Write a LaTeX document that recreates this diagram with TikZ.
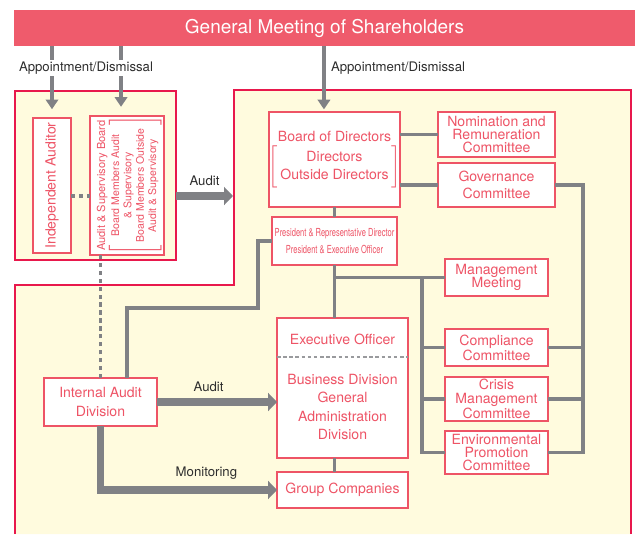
\documentclass[tikz,border=0pt]{standalone}
\usepackage{fontspec}
\usepackage{graphicx}
\setmainfont{TeX Gyre Heros}
\usetikzlibrary{positioning, arrows.meta, calc}

\definecolor{gmsred}{RGB}{239,91,108}
\definecolor{framered}{RGB}{232,24,76}
\definecolor{boxred}{RGB}{238,84,102}
\definecolor{cream}{RGB}{255,251,222}
\definecolor{linegray}{RGB}{128,129,133}
\definecolor{labelgray}{RGB}{45,45,45}

\begin{document}
\begin{tikzpicture}[
            x=0.02cm, y=-0.02cm,
            boxtext/.style={text=boxred, align=center, inner sep=0pt, outer sep=0pt, font=\fontsize{8}{10.3}\selectfont},
            box/.style={boxtext, draw=boxred, fill=white, line width=1.1pt},
            committee/.style={box, minimum width=2.06cm, font=\fontsize{8}{7.6}\selectfont},
            frame/.style={draw=framered, line width=1.2pt, fill=cream},
            line/.style={draw=linegray, line width=2pt},
            arrow/.style={line, -{Triangle[width=7pt,length=5.5pt]}},
            bigarrow/.style={draw=linegray, line width=4pt, -{Triangle[width=10pt,length=5pt]}},
            dashline/.style={draw=linegray, line width=1.8pt, dash pattern=on 2.5pt off 2pt},
            sepline/.style={draw=linegray!80, line width=0.6pt, dash pattern=on 2pt off 1.5pt},
            lbl/.style={text=labelgray, inner sep=1pt, font=\fontsize{7.5}{9}\selectfont}
        ]
        \useasboundingbox (0,0) rectangle (635,534);

        % Frames
        \path[frame] (15,534) -- (15,285) -- (234,285) -- (234,90) -- (631,90) -- (631,534);
        \node[frame, minimum width=3.22cm, minimum height=3.38cm, inner sep=0pt, outer sep=0pt] (lframe) at (95.5,175.5) {};

        % Shareholders
        \node[fill=gmsred, text=white, minimum width=12.42cm, minimum height=0.72cm, inner sep=0pt, font=\fontsize{10.8}{12}\selectfont] (gms) at (324.5,28) {General Meeting of Shareholders};

        % Audit side
        \node[box, rotate=90, minimum width=2.7cm, minimum height=0.76cm, font=\fontsize{8}{9.6}\selectfont] (indep) at (52,185.5) {Independent Auditor};
        \node[box, rotate=90, minimum width=2.7cm, minimum height=1.48cm] (asb) at (127,185.5) {%
            \begin{tabular}{@{}c@{}}
            {\fontsize{6.3}{7.5}\selectfont Audit \& Supervisory Board}\\[-1pt]
            $\left[\,\vcenter{\hbox{\fontsize{6}{7}\selectfont\begin{tabular}{@{}c@{}}Board Members Audit\\ \& Supervisory\\ Board Members Outside\\ Audit \& Supervisory\end{tabular}}}\,\right]$
            \end{tabular}};

        % Board and committees
        \node[box, minimum width=2.5cm, minimum height=1.9cm] (board) at (334.5,159.5) {Board of Directors\\[1pt]
            $\left[\,\vcenter{\hbox{\begin{tabular}{@{}c@{}}Directors\\ Outside Directors\end{tabular}}}\,\right]$};
        \node[committee, minimum width=2.34cm, minimum height=0.9cm] (nomin) at (496.5,134.5) {Nomination and\\Remuneration\\Committee};
        \node[committee, minimum width=2.34cm, minimum height=0.88cm, below=0.12cm of nomin, font=\fontsize{8}{9.6}\selectfont] (gov) {Governance\\Committee};
        \node[box, minimum width=2.5cm, minimum height=0.96cm, below=0.2cm of board, font=\fontsize{6.3}{9.8}\selectfont] (pres)
            {\scalebox{0.68}[1]{President \& Representative Director}\\\scalebox{0.68}[1]{President \& Executive Officer}};

        \node[committee, minimum height=0.74cm] (mgmt) at (496.5,277.5) {Management\\Meeting};
        \node[committee, minimum height=0.74cm, font=\fontsize{8}{8.5}\selectfont] (compl) at (496.5,347.5) {Compliance\\Committee};
        \node[committee, minimum height=0.88cm, below=0.22cm of compl] (crisis) {Crisis\\Management\\Committee};
        \node[committee, minimum height=0.86cm, below=0.2cm of crisis] (env) {Environmental\\Promotion\\Committee};

        % Executive side
        \node[box, minimum width=2.62cm, minimum height=2.8cm] (exec) at (342.5,388) {};
        \node[boxtext] (exectitle) at (342.5,339) {Executive Officer};
        \node[boxtext, font=\fontsize{8}{10.5}\selectfont] (execbody) at (342.5,407) {Business Division\\General\\Administration\\Division};
        \node[box, minimum width=2.62cm, minimum height=0.72cm, below=0.28cm of exec] (group) {Group Companies};
        \node[box, minimum width=2.26cm, minimum height=0.96cm] (iad) at (100.5,402) {Internal Audit\\Division};

        \coordinate (execsep) at (0,357);
        \draw[sepline] (exec.west |- execsep) -- (exec.east |- execsep);

        % Appointment arrows
        \coordinate (asbtop) at ([xshift=-3.4pt]asb.east);
        \coordinate (boardtop) at ([xshift=-6pt]board.north);
        \draw[arrow, shorten >=5pt] (gms.south -| indep.east) -- (indep.east);
        \draw[arrow, shorten >=5pt] (gms.south -| asbtop) -- (asbtop);
        \draw[arrow, shorten >=1.5pt] (gms.south -| boardtop) -- (boardtop);
        \node[lbl, fill=white] (appl) at (86,68) {Appointment/Dismissal};
        \node[lbl] (appr) at (398,68) {Appointment/Dismissal};

        % Audit links
        \coordinate (auditY) at (0,196);
        \coordinate (bigw) at (233,196);
        \draw[dashline] (indep.south |- auditY) -- (asb.north |- auditY);
        \draw[dashline] (iad.north) -- (iad.north |- asb.west);
        \draw[bigarrow] (lframe.east |- bigw) -- node[lbl, above=3pt] {Audit} (bigw);
        \draw[bigarrow] (iad.east) -- node[lbl, above=3pt, pos=0.43] {Audit} (iad.east -| exec.west);
        \draw[bigarrow] (iad.south) |- node[lbl, above=3pt, pos=0.8] {Monitoring} (group.west);

        % Board lines
        \coordinate (rbus) at (583,0);
        \draw[line] (board.east |- nomin.west) -- (nomin.west);
        \draw[line] (board.east |- gov.west) -- (gov.west);
        \draw[line] (gov.east) -| (env.east -| rbus) -- (env.east);
        \draw[line] (compl.east) -- (compl.east -| rbus);
        \draw[line] (crisis.east) -- (crisis.east -| rbus);
        \draw[line] (board.south) -- (pres.north);

        % President lines
        \coordinate (lbus) at (422,0);
        \coordinate (presbend) at (258,308);
        \coordinate (iadtop) at ([xshift=15pt]iad.north);
        \draw[line] (pres.south) -- (pres.south |- exec.north);
        \draw[line] (pres.south |- mgmt.west) -- (mgmt.west);
        \draw[line] (mgmt.west -| lbus) |- (env.west);
        \draw[line] (compl.west -| lbus) -- (compl.west);
        \draw[line] (crisis.west -| lbus) -- (crisis.west);
        \draw[line] (exec.south -| pres.south) -- (group.north -| pres.south);
        \draw[line] (pres.west) -| (presbend) -| (iadtop);

\end{tikzpicture}
\end{document}
